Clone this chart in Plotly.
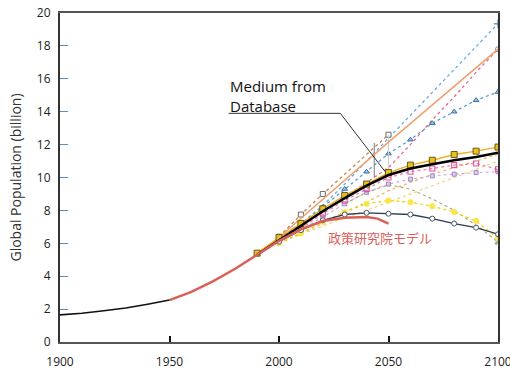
import plotly.graph_objects as go

# ---------------- data ----------------
years_hist = [1900, 1910, 1920, 1930, 1940, 1950]
pop_hist = [1.65, 1.75, 1.9, 2.07, 2.3, 2.55]

years_med = [1990, 2000, 2010, 2020, 2030, 2040, 2050, 2060, 2070, 2080, 2090, 2100]
medium_db = [5.3, 6.2, 7.05, 7.95, 8.75, 9.5, 10.15, 10.55, 10.8, 11.05, 11.25, 11.5]
yellow_sq = [5.4, 6.35, 7.2, 8.1, 8.9, 9.6, 10.3, 10.75, 11.05, 11.4, 11.6, 11.85]

years_model = [1950, 1960, 1970, 1980, 1990, 2000, 2010, 2020, 2030, 2040, 2045, 2050]
model_pop = [2.55, 3.05, 3.7, 4.45, 5.3, 6.15, 6.85, 7.35, 7.55, 7.6, 7.5, 7.2]

years_orange = [1990, 2000, 2050, 2100]
orange_high = [5.3, 6.35, 12.15, 17.8]

years_sq50 = [2000, 2010, 2020, 2050]
whitesq_high = [6.4, 7.75, 9.0, 12.6]

years_p = [2000, 2010, 2020, 2030, 2040, 2050, 2060, 2070, 2080, 2090, 2100]
blue_tri = [6.3, 7.1, 8.2, 9.3, 10.35, 11.45, 12.3, 13.3, 14.0, 14.7, 15.2]
blue_plus = [6.3, 7.2, 8.3, 9.6, 11.0, 12.4, 13.8, 15.2, 16.6, 18.0, 19.35]
pink_high = [6.2, 7.0, 7.9, 8.8, 9.7, 10.6, 12.0, 13.5, 14.9, 16.4, 17.8]
pink_sq = [6.2, 6.9, 7.8, 8.6, 9.3, 10.0, 10.35, 10.55, 10.75, 10.85, 10.5]
navy_circ = [6.1, 6.8, 7.4, 7.75, 7.85, 7.8, 7.75, 7.5, 7.2, 6.95, 6.55]
yellow_dot = [6.0, 6.6, 7.3, 7.9, 8.4, 8.6, 8.5, 8.25, 7.9, 7.35, 6.3]
orange_dot = [6.0, 6.6, 7.2, 7.9, 8.5, 9.2, 9.7, 10.2, 10.6, 11.0, 11.4]
yellow_rise = [6.05, 6.55, 7.05, 7.55, 8.0, 8.5, 9.0, 9.5, 10.0, 10.5, 11.0]
lavender = [6.1, 6.8, 7.6, 8.4, 9.1, 9.6, 9.9, 10.1, 10.2, 10.3, 10.35]

years_fall = [2030, 2040, 2050, 2060, 2070, 2080, 2090, 2100]
gray_fall = [8.4, 9.1, 9.55, 9.3, 8.7, 8.0, 7.1, 6.1]

range_a_x = [2043.5, 2043.5]
range_a_y = [12.1, 10.0]
range_b_x = [2050, 2050]
range_b_y = [12.6, 10.2]

x_ticks = [1900, 1950, 2000, 2050, 2100]
y_ticks = [0, 2, 4, 6, 8, 10, 12, 14, 16, 18, 20]

# ---------------- figure ----------------
fig = go.Figure()


def add(x, y, color, width=1.2, dash="dot", marker=None):
    kw = dict(x=x, y=y, mode="lines", line=dict(color=color, width=width, dash=dash),
              showlegend=False, hoverinfo="skip")
    if marker is not None:
        kw["marker"] = marker
        kw["mode"] = "lines+markers"
    fig.add_trace(go.Scatter(**kw))


def end_only(vals, size):
    return [0] * (len(vals) - 1) + [size]


# faint / dotted scenario lines
add(years_p, yellow_rise, "#f2d27a", 1.2, "dot")
add(years_p, orange_dot, "#f3b060", 1.2, "dot")
add(years_p, lavender, "#c9a8e0", 1.1, "dot",
    marker=dict(symbol="square", size=4, color="#dccaf2", line=dict(color="#a088c8", width=1)))
add(years_fall, gray_fall, "#b0a878", 1.2, "dot",
    marker=dict(symbol="x", size=end_only(gray_fall, 6), color="#5a9a80"))
add(years_p, yellow_dot, "#f2d200", 1.2, "dot",
    marker=dict(symbol="circle", size=6, color="#fae64a", line=dict(width=0)))
add(years_p, pink_high, "#e36a88", 1.3, "dot",
    marker=dict(symbol="circle-open", size=end_only(pink_high, 5), color="#555555"))
add(years_p, blue_plus, "#6fa8dc", 1.3, "dot",
    marker=dict(symbol="cross-thin", size=end_only(blue_plus, 6), color="#3d6fa0",
                line=dict(color="#3d6fa0", width=1.5)))
add(years_p, blue_tri, "#5b9bd5", 1.3, "dot",
    marker=dict(symbol="triangle-up", size=5, color="#9fc5e8", line=dict(color="#3a6ea5", width=1)))
add(years_p, pink_sq, "#ee82b0", 1.3, "dot",
    marker=dict(symbol="square-open", size=5, color="#e5559a", line=dict(width=1.1)))
add(years_sq50, whitesq_high, "#c88050", 1.3, "dot",
    marker=dict(symbol="square", size=5, color="white", line=dict(color="#667070", width=1)))
add(range_a_x, range_a_y, "#888888", 1.1, "solid")
add(range_b_x, range_b_y, "#cccccc", 1.0, "solid")
add(years_orange, orange_high, "#f0a070", 1.5, "solid")
add(years_p, navy_circ, "#2f3b55", 1.3, "solid",
    marker=dict(symbol="circle", size=5, color="white", line=dict(color="#4a5a6a", width=1)))
add(years_med, yellow_sq, "#f0b020", 1.4, "solid",
    marker=dict(symbol="square", size=6, color="#e8c020", line=dict(color="#6b5a10", width=1)))
add(years_med, medium_db, "#000000", 2.5, "solid")
add(years_model, model_pop, "#d9605a", 2.5, "solid")
add(years_hist, pop_hist, "#111111", 1.6, "solid")

# callout for "Medium from Database"
fig.add_shape(type="line", x0=1977, y0=13.9, x1=2028, y1=13.9, xref="x", yref="y",
              line=dict(color="#333333", width=1))
fig.add_shape(type="line", x0=2028, y0=13.9, x1=2048.5, y1=10.35, xref="x", yref="y",
              line=dict(color="#333333", width=1))
fig.add_annotation(x=1976.5, y=14.95, xref="x", yref="y", xanchor="left", yanchor="middle",
                   text="Medium from<br>Database", showarrow=False, align="left",
                   font=dict(family="Open Sans", size=15, color="#111111"))
fig.add_annotation(x=2046, y=6.38, xref="x", yref="y", xanchor="center", yanchor="middle",
                   text="政策研究院モデル", showarrow=False,
                   font=dict(family="Noto Sans CJK JP", size=13, color="#d9605a"))

fig.update_layout(
    width=510, height=369,
    margin=dict(l=60, r=12, t=13, b=27),
    paper_bgcolor="white", plot_bgcolor="white",
    font=dict(family="Open Sans", size=12, color="#222222"),
    xaxis=dict(range=[1900, 2100], tickvals=x_ticks, ticktext=[str(v) for v in x_ticks],
               automargin=False, ticklabeloverflow="allow",
               showgrid=False, zeroline=False, showline=True, linecolor="#555555", linewidth=2,
               mirror=True, ticks="inside", ticklen=6, tickcolor="#111111", tickwidth=1.5,
               ticklabelstandoff=8,
               tickfont=dict(size=12, color="#222222")),
    yaxis=dict(range=[0, 20], tickvals=y_ticks, ticktext=[str(v) for v in y_ticks],
               automargin=False,
               showgrid=False, zeroline=False, showline=True, linecolor="#333333", linewidth=2,
               mirror=True, ticks="inside", ticklen=8, tickcolor="#5b8bd0", tickwidth=1.2,
               ticklabelstandoff=5,
               tickfont=dict(size=12, color="#222222"),
               title=dict(text="Global Population (billion)", standoff=12,
                          font=dict(size=14, color="#333333"))),
)

fig.write_html("out.html", config={"displayModeBar": False},
               post_script="document.body.style.margin='0';document.body.style.overflow='hidden';")
